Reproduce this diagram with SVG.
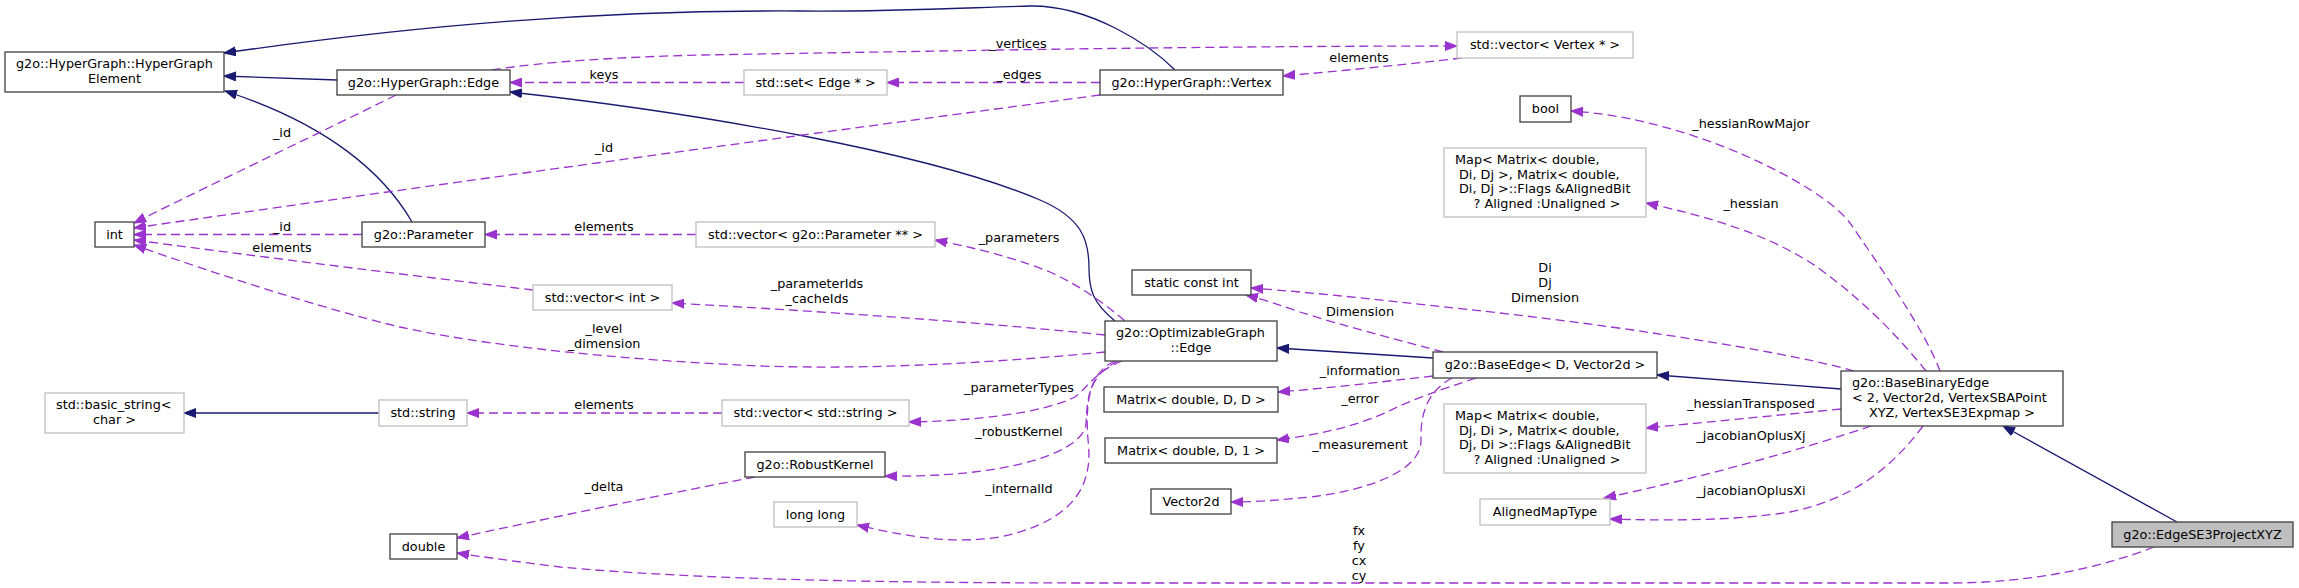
<svg xmlns="http://www.w3.org/2000/svg" width="2299" height="588" viewBox="0 0 2299 588">
<style>
text{font-family:"DejaVu Sans","Liberation Sans",sans-serif;font-size:12.8px;fill:#000}
.c{text-anchor:middle}
.l{text-anchor:start}
rect.d{fill:#fff;stroke:#404040;stroke-width:1.3}
rect.u{fill:#fff;stroke:#bfbfbf;stroke-width:1.3}
rect.m{fill:#bfbfbf;stroke:#404040;stroke-width:1.3}
.inh{fill:none;stroke:#191970;stroke-width:1.3;marker-end:url(#an)}
.use{fill:none;stroke:#9a32cd;stroke-width:1.3;stroke-dasharray:9,5;marker-end:url(#ap)}
</style>
<defs>
<marker id="an" markerUnits="userSpaceOnUse" viewBox="0 -5 13 10" markerWidth="13" markerHeight="10" refX="12" refY="0" orient="auto"><path d="M0,-4.5L12,0L0,4.5z" fill="#191970" stroke="#191970" stroke-width="1"/></marker>
<marker id="ap" markerUnits="userSpaceOnUse" viewBox="0 -5 13 10" markerWidth="13" markerHeight="10" refX="12" refY="0" orient="auto"><path d="M0,-4.5L12,0L0,4.5z" fill="#9a32cd" stroke="#9a32cd" stroke-width="1"/></marker>
</defs>
<g id="connectors">
<path class="inh" d="M1175,70 C1150,45 1090,5 1030,6 C960,8 880,12 800,11 C600,10 420,25 224,53"/>
<path class="inh" d="M337,80 L224,76"/>
<path class="inh" d="M412,222 C385,175 330,125 225,91"/>
<path class="inh" d="M1115,321 C1093,303 1089,290 1089,268 C1089,240 1082,218 1040,200 C930,153 700,113 510,92"/>
<path class="inh" d="M1433,358 L1277,348"/>
<path class="inh" d="M1841,389 L1657,375"/>
<path class="inh" d="M2177,522 L2003,426"/>
<path class="inh" d="M379,413 L184,413"/>
<path class="use" d="M396,95 C330,128 220,180 134,223"/>
<path class="use" d="M1100,95 C900,122 500,175 134,228"/>
<path class="use" d="M362,234.5 L134,234.5"/>
<path class="use" d="M533,290 C450,280 300,262 134,240"/>
<path class="use" d="M1105,352 C1000,362 880,370 760,366 C620,360 480,345 400,327 C320,308 220,275 134,245"/>
<path class="use" d="M696,234.5 L485,234.5"/>
<path class="use" d="M1125,321 C1100,300 1080,286 1050,272 C1010,256 970,247 935,240"/>
<path class="use" d="M1105,335 C980,322 800,310 672,303"/>
<path class="use" d="M1122,361 C1095,372 1090,385 1075,397 C1040,414 970,421 909,422"/>
<path class="use" d="M722,413 L467,413"/>
<path class="use" d="M1118,361 C1090,375 1087,395 1086,425 C1080,455 1000,478 885,476"/>
<path class="use" d="M1115,361 C1090,372 1085,400 1088,440 C1093,480 1080,520 1000,537 C950,545 900,535 857,525"/>
<path class="use" d="M755,477 C650,497 540,520 457,538"/>
<path class="use" d="M2154,547 C2100,568 2030,583 1950,583 L1100,583 C900,583 700,580 560,567 C520,562 490,558 457,553"/>
<path class="use" d="M492,70 C540,62 620,57 700,55 L1000,50 C1200,47 1350,46 1457,46"/>
<path class="use" d="M744,82.5 L510,82.5"/>
<path class="use" d="M1100,82.5 L887,82.5"/>
<path class="use" d="M1462,58 C1400,65 1340,71 1283,76"/>
<path class="use" d="M1940,371 C1925,330 1878,264 1850,223 C1822,185 1690,118 1571,111"/>
<path class="use" d="M1926,371 C1905,345 1870,305 1817,267 C1770,235 1710,217 1646,203"/>
<path class="use" d="M1854,371 C1800,355 1650,330 1500,313 C1400,302 1320,293 1251,288"/>
<path class="use" d="M1443,352 C1410,343 1340,325 1300,312 C1280,305 1262,299 1246,295"/>
<path class="use" d="M1433,376 C1380,382 1330,388 1278,392"/>
<path class="use" d="M1476,378 C1440,390 1410,400 1385,413 C1350,428 1320,434 1277,440"/>
<path class="use" d="M1452,378 C1430,390 1420,410 1421,440 C1422,470 1370,490 1310,497 C1280,500 1255,502 1231,502"/>
<path class="use" d="M1841,409 C1780,415 1720,421 1646,428"/>
<path class="use" d="M1871,426 C1800,450 1700,478 1604,498"/>
<path class="use" d="M1923,426 C1890,470 1850,500 1790,512 C1740,520 1680,521 1610,519"/>
<text class="c" x="1018" y="47.5">_vertices</text>
<text class="c" x="604" y="78.5">keys</text>
<text class="c" x="1019" y="78.5">_edges</text>
<text class="c" x="1359" y="61.5">elements</text>
<text class="c" x="282" y="136.5">_id</text>
<text class="c" x="604" y="151.5">_id</text>
<text class="c" x="1751" y="127.5">_hessianRowMajor</text>
<text class="c" x="1751" y="207.5">_hessian</text>
<text class="c" x="282" y="230.5">_id</text>
<text class="c" x="282" y="251.5">elements</text>
<text class="c" x="604" y="230.5">elements</text>
<text class="c" x="1019" y="241.5">_parameters</text>
<text class="c" x="1545" y="271.5">Di</text>
<text class="c" x="1545" y="286.5">Dj</text>
<text class="c" x="1545" y="301.5">Dimension</text>
<text class="c" x="817" y="287.5">_parameterIds</text>
<text class="c" x="817" y="302.5">_cacheIds</text>
<text class="c" x="1360" y="316">Dimension</text>
<text class="c" x="604" y="332.5">_level</text>
<text class="c" x="604" y="347.5">_dimension</text>
<text class="c" x="1360" y="375">_information</text>
<text class="c" x="1019" y="392">_parameterTypes</text>
<text class="c" x="1360" y="403">_error</text>
<text class="c" x="1751" y="408">_hessianTransposed</text>
<text class="c" x="604" y="408.5">elements</text>
<text class="c" x="1019" y="436">_robustKernel</text>
<text class="c" x="1751" y="440">_jacobianOplusXj</text>
<text class="c" x="1360" y="449">_measurement</text>
<text class="c" x="604" y="491">_delta</text>
<text class="c" x="1019" y="493">_internalId</text>
<text class="c" x="1751" y="495">_jacobianOplusXi</text>
<text class="c" x="1359" y="534.5">fx</text>
<text class="c" x="1359" y="549.5">fy</text>
<text class="c" x="1359" y="564.5">cx</text>
<text class="c" x="1359" y="579.5">cy</text>
</g>
<g id="n_hge"><rect class="d" x="5" y="52" width="219" height="40"/><text class="l" x="16" y="68">g2o::HyperGraph::HyperGraph</text><text class="c" x="114.5" y="83">Element</text></g>
<g id="n_edge"><rect class="d" x="337" y="70" width="173" height="25"/><text class="c" x="423.5" y="87">g2o::HyperGraph::Edge</text></g>
<g id="n_set"><rect class="u" x="744" y="70" width="143" height="25"/><text class="c" x="815.5" y="87">std::set&lt; Edge * &gt;</text></g>
<g id="n_vertex"><rect class="d" x="1100" y="70" width="183" height="25"/><text class="c" x="1191.5" y="87">g2o::HyperGraph::Vertex</text></g>
<g id="n_vecvertex"><rect class="u" x="1457" y="32" width="176" height="26"/><text class="c" x="1545" y="49">std::vector&lt; Vertex * &gt;</text></g>
<g id="n_bool"><rect class="d" x="1520" y="96" width="51" height="26"/><text class="c" x="1545.5" y="113">bool</text></g>
<g id="n_mapdidj"><rect class="u" x="1444" y="148" width="202" height="69"/><text class="l" x="1455" y="164">Map&lt; Matrix&lt; double,</text><text class="l" x="1459" y="178.7">Di, Dj &gt;, Matrix&lt; double,</text><text class="l" x="1459" y="193.3">Di, Dj &gt;::Flags &amp;AlignedBit</text><text class="c" x="1547" y="208">? Aligned :Unaligned &gt;</text></g>
<g id="n_int"><rect class="d" x="95" y="222" width="39" height="25"/><text class="c" x="114.5" y="239">int</text></g>
<g id="n_param"><rect class="d" x="362" y="222" width="123" height="25"/><text class="c" x="423.5" y="239">g2o::Parameter</text></g>
<g id="n_vecparam"><rect class="u" x="696" y="222" width="239" height="25"/><text class="c" x="815.5" y="239">std::vector&lt; g2o::Parameter ** &gt;</text></g>
<g id="n_sci"><rect class="d" x="1132" y="270" width="119" height="25"/><text class="c" x="1191.5" y="287">static const int</text></g>
<g id="n_vecint"><rect class="u" x="533" y="285" width="139" height="25"/><text class="c" x="602.5" y="302">std::vector&lt; int &gt;</text></g>
<g id="n_oge"><rect class="d" x="1105" y="321" width="172" height="40"/><text class="l" x="1116" y="337">g2o::OptimizableGraph</text><text class="c" x="1191" y="352">::Edge</text></g>
<g id="n_baseedge"><rect class="d" x="1433" y="352" width="224" height="26"/><text class="c" x="1545" y="369">g2o::BaseEdge&lt; D, Vector2d &gt;</text></g>
<g id="n_bbe"><rect class="d" x="1841" y="371" width="222" height="55"/><text class="l" x="1852" y="386.5">g2o::BaseBinaryEdge</text><text class="l" x="1852" y="401.5">&lt; 2, Vector2d, VertexSBAPoint</text><text class="c" x="1952" y="416.5">XYZ, VertexSE3Expmap &gt;</text></g>
<g id="n_basicstring"><rect class="u" x="45" y="393" width="139" height="40"/><text class="l" x="56" y="409">std::basic_string&lt;</text><text class="c" x="114.5" y="424">char &gt;</text></g>
<g id="n_string"><rect class="u" x="379" y="400" width="88" height="26"/><text class="c" x="423" y="417">std::string</text></g>
<g id="n_vecstring"><rect class="u" x="722" y="400" width="187" height="26"/><text class="c" x="815.5" y="417">std::vector&lt; std::string &gt;</text></g>
<g id="n_matdd"><rect class="d" x="1104" y="387" width="174" height="25"/><text class="c" x="1191" y="404">Matrix&lt; double, D, D &gt;</text></g>
<g id="n_matd1"><rect class="d" x="1105" y="438" width="172" height="25"/><text class="c" x="1191" y="455">Matrix&lt; double, D, 1 &gt;</text></g>
<g id="n_mapdjdi"><rect class="u" x="1444" y="404" width="202" height="69"/><text class="l" x="1455" y="420">Map&lt; Matrix&lt; double,</text><text class="l" x="1459" y="434.7">Dj, Di &gt;, Matrix&lt; double,</text><text class="l" x="1459" y="449.3">Dj, Di &gt;::Flags &amp;AlignedBit</text><text class="c" x="1547" y="464">? Aligned :Unaligned &gt;</text></g>
<g id="n_robust"><rect class="d" x="745" y="452" width="140" height="25"/><text class="c" x="815" y="469">g2o::RobustKernel</text></g>
<g id="n_aligned"><rect class="u" x="1480" y="499" width="130" height="26"/><text class="c" x="1545" y="516">AlignedMapType</text></g>
<g id="n_double"><rect class="d" x="390" y="534" width="67" height="25"/><text class="c" x="423.5" y="551">double</text></g>
<g id="n_longlong"><rect class="u" x="774" y="502" width="83" height="25"/><text class="c" x="815.5" y="519">long long</text></g>
<g id="n_vector2d"><rect class="d" x="1151" y="489" width="80" height="25"/><text class="c" x="1191" y="506">Vector2d</text></g>
<g id="n_main"><rect class="m" x="2112" y="522" width="181" height="25"/><text class="c" x="2202.5" y="539">g2o::EdgeSE3ProjectXYZ</text></g>
</svg>
